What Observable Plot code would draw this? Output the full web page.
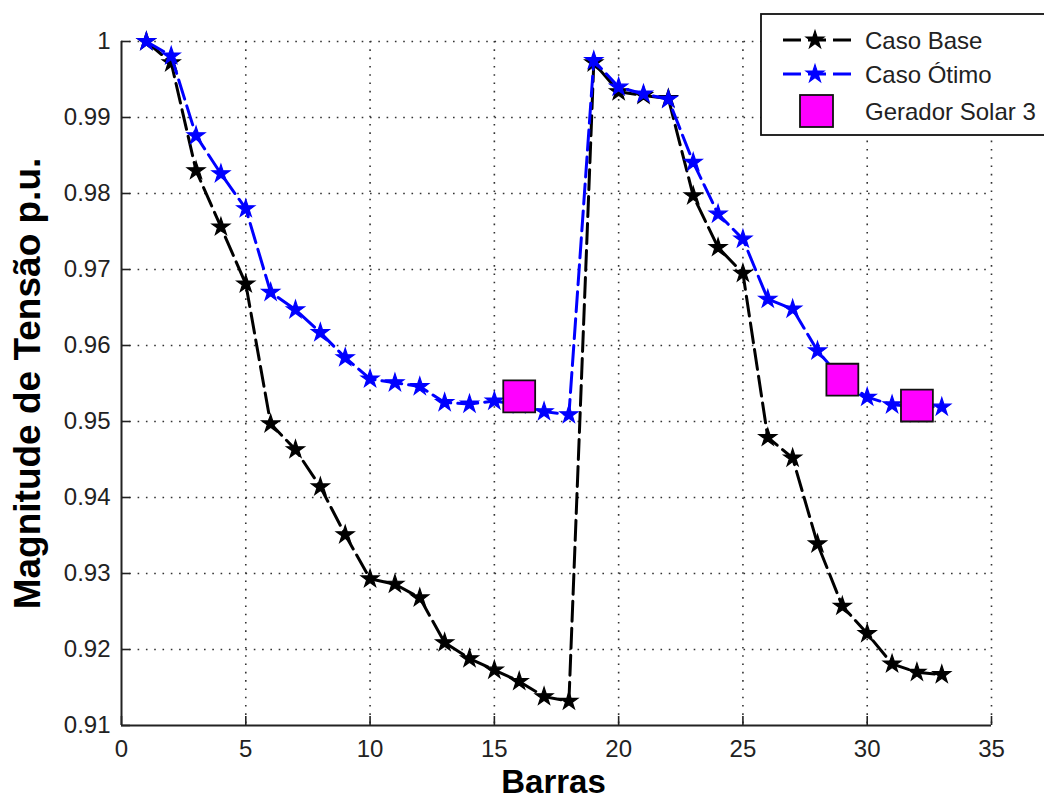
<!DOCTYPE html>
<html>
<head>
<meta charset="utf-8">
<script src="https://cdn.jsdelivr.net/npm/d3@7"></script>
<script src="https://cdn.jsdelivr.net/npm/@observablehq/plot@0.6"></script>
<style>
  html, body { margin: 0; padding: 0; background: #fff; overflow: hidden; }
  #wrap { position: relative; width: 1044px; height: 802px; overflow: hidden; }
  #wrap svg { display: block; }
  #legend { position: absolute; left: 0; top: 0; }
</style>
</head>
<body>
<div id="wrap"></div>
<script>
// ---- data ----
const barras = [1,2,3,4,5,6,7,8,9,10,11,12,13,14,15,16,17,18,19,20,21,22,23,24,25,26,27,28,29,30,31,32,33];
const casoBase = [1.0000,0.9972,0.9830,0.9756,0.9681,0.9497,0.9463,0.9414,0.9351,0.9293,0.9286,0.9268,0.9209,0.9188,0.9173,0.9158,0.9138,0.9132,0.9972,0.9934,0.9929,0.9925,0.9797,0.9729,0.9695,0.9479,0.9452,0.9339,0.9257,0.9221,0.9181,0.9170,0.9167];
const casoOtimo = [1.0000,0.9981,0.9876,0.9826,0.9780,0.9670,0.9647,0.9617,0.9584,0.9556,0.9551,0.9546,0.9525,0.9523,0.9527,0.9522,0.9513,0.9509,0.9975,0.9940,0.9931,0.9924,0.9841,0.9773,0.9740,0.9661,0.9648,0.9593,0.9555,0.9532,0.9522,0.9520,0.9519];
const barrasSolar = [16, 29, 32];
const tensaoSolar = [0.9533, 0.9555, 0.9521];
const xTicks = [0,5,10,15,20,25,30,35];
const yTicks = [0.91,0.92,0.93,0.94,0.95,0.96,0.97,0.98,0.99,1.00];
const seriesNames = ["Caso Base", "Caso Ótimo", "Gerador Solar 3"];
const xLabel = "Barras";
const yLabel = "Magnitude de Tensão p.u.";

// ---- tables ----
const base = barras.map((b, i) => ({x: b, y: casoBase[i]}));
const otimo = barras.map((b, i) => ({x: b, y: casoOtimo[i]}));
const solar = barrasSolar.map((b, i) => ({x: b, y: tensaoSolar[i]}));

const W = 1044, H = 802;
const mL = 121, mR = 53, mT = 41, mB = 77;
const frameW = W - mL - mR, frameH = H - mT - mB;
const tick = 9;
const dash = "20,7";
const starR = 5.6;
const font = "'Liberation Sans', Arial, Helvetica, sans-serif";

const chart = Plot.plot({
  width: W, height: H,
  marginLeft: mL, marginRight: mR, marginTop: mT, marginBottom: mB,
  x: {domain: [0, 35]},
  y: {domain: [0.91, 1.0]},
  style: {fontFamily: font, background: "#fff", color: "#222"},
  marks: [
    // grid
    Plot.ruleX(xTicks.filter(d => d > 0), {x: d => d, stroke: "#333", strokeWidth: 1.6, strokeDasharray: "1.6,6.7"}),
    Plot.ruleY(yTicks.filter(d => d > 0.91), {y: d => d, stroke: "#333", strokeWidth: 1.6, strokeDasharray: "1.6,6.7"}),
    // axes lines
    Plot.ruleX([0], {stroke: "#222", strokeWidth: 2}),
    Plot.ruleY([0.91], {stroke: "#222", strokeWidth: 2}),
    // inward ticks
    Plot.tickX(xTicks, {x: d => d, insetTop: frameH - tick, stroke: "#222", strokeWidth: 1.6}),
    Plot.tickY(yTicks, {y: d => d, insetRight: frameW - tick, stroke: "#222", strokeWidth: 1.6}),
    // tick labels
    Plot.axisX(xTicks, {tickSize: 0, tickPadding: 14, fontSize: 24, label: null, tickFormat: d => String(d), fill: "#222"}),
    Plot.axisY(yTicks, {tickSize: 0, tickPadding: 11, fontSize: 24, label: null, tickFormat: d => d === 1 ? "1" : d.toFixed(2), fill: "#222"}),
    // axis titles
    Plot.text([yLabel], {text: d => d, frameAnchor: "left", textAnchor: "middle", lineAnchor: "middle", rotate: -90, dx: -93, fontSize: 37, fontWeight: "bold", fill: "#000"}),
    Plot.text([xLabel], {text: d => d, frameAnchor: "bottom", textAnchor: "middle", lineAnchor: "middle", dx: -3, dy: 57, fontSize: 33, fontWeight: "bold", fill: "#000"}),
    // Caso Base
    Plot.line(base, {x: "x", y: "y", stroke: "#000", strokeWidth: 3, strokeDasharray: dash}),
    Plot.dot(base, {x: "x", y: "y", symbol: "star", r: starR, fill: "#000", stroke: "#000", strokeWidth: 1.2}),
    // Caso Otimo
    Plot.line(otimo, {x: "x", y: "y", stroke: "#0000ff", strokeWidth: 3, strokeDasharray: dash}),
    Plot.dot(otimo, {x: "x", y: "y", symbol: "star", r: starR, fill: "#0000ff", stroke: "#0000ff", strokeWidth: 1.2}),
    // Gerador Solar
    Plot.dot(solar, {x: "x", y: "y", symbol: "square", r: 18, fill: "#ff00ff", stroke: "#111", strokeWidth: 1.8})
  ]
});

const wrap = document.getElementById("wrap");
wrap.appendChild(chart);

// ---- legend overlay ----
const leg = d3.select(wrap).append("svg").attr("id", "legend").attr("width", W).attr("height", H);
leg.append("rect").attr("x", 761).attr("y", 14).attr("width", 400).attr("height", 121)
  .attr("fill", "#fff").attr("stroke", "#111").attr("stroke-width", 1.8);
const entries = [
  {name: seriesNames[0], color: "#000", kind: "line", cy: 40},
  {name: seriesNames[1], color: "#0000ff", kind: "line", cy: 74},
  {name: seriesNames[2], color: "#ff00ff", kind: "square", cy: 111}
];
const starPath = d3.symbol(d3.symbolStar, Math.PI * starR * starR)();
const g = leg.selectAll("g.entry").data(entries).join("g").attr("class", "entry");
g.filter(d => d.kind === "line").append("line")
  .attr("x1", 783).attr("x2", 858).attr("y1", d => d.cy).attr("y2", d => d.cy)
  .attr("stroke", d => d.color).attr("stroke-width", 3).attr("stroke-dasharray", "18,7");
g.filter(d => d.kind === "line").append("path")
  .attr("d", starPath).attr("transform", d => `translate(815,${d.cy})`)
  .attr("fill", d => d.color).attr("stroke", d => d.color).attr("stroke-width", 1.2);
g.filter(d => d.kind === "square").append("rect")
  .attr("x", 800).attr("y", d => d.cy - 16).attr("width", 33).attr("height", 32)
  .attr("fill", d => d.color).attr("stroke", "#111").attr("stroke-width", 1.8);
g.append("text").attr("x", 865).attr("y", d => d.cy).attr("dy", "0.36em")
  .attr("font-family", font).attr("font-size", 24).attr("fill", "#222")
  .text(d => d.name);
</script>
</body>
</html>
